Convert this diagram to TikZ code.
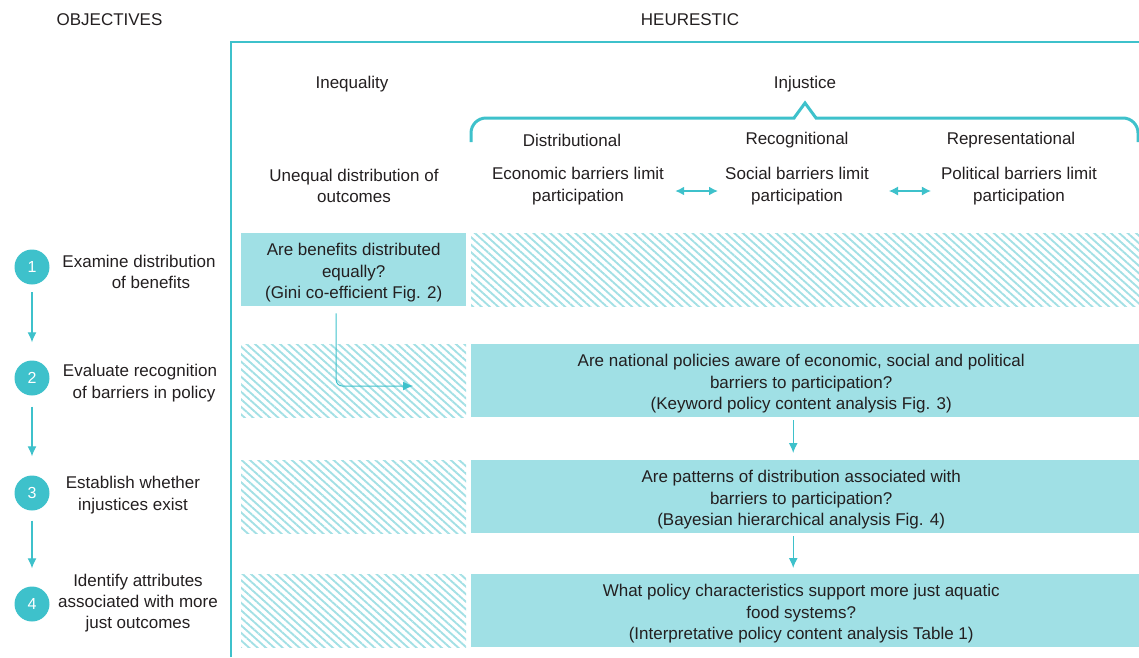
\documentclass[tikz,border=0pt]{standalone}
\usepackage{fontspec}
\setmainfont{Liberation Sans}
\usetikzlibrary{arrows.meta,patterns.meta,calc}
\definecolor{teal1}{HTML}{3EC1CB}
\definecolor{boxfill}{HTML}{A0E0E5}
\definecolor{hatchc}{HTML}{A3E0E5}
\definecolor{ink}{HTML}{231F20}
\tikzset{
  lbl/.style={inner sep=0pt, align=center, text=ink, font=\fontsize{17}{21.3}\selectfont},
  fillbox/.style={fill=boxfill, inner sep=0pt, anchor=north west, minimum height=73pt},
  boxtext/.style={lbl, yshift=-3pt},
  hatchbox/.style={pattern={Lines[angle=-42, distance=5.6pt, line width=1.9pt]}, pattern color=hatchc},
  numc/.style={circle, fill=teal1, minimum size=35pt, inner sep=0pt, text=white, font=\fontsize{16}{18}\selectfont},
  arr/.style={draw=teal1, line width=1.2pt, -{Latex[length=10pt,width=9pt]}},
  darr/.style={draw=teal1, {Latex[length=9pt,width=9pt]}-{Latex[length=9pt,width=9pt]}},
  frame/.style={draw=teal1, line width=1.5pt},
  bracel/.style={draw=teal1, line width=3pt},
}
\begin{document}
\begin{tikzpicture}[x=1pt,y=-1pt]
\useasboundingbox (0,0) rectangle (1139,657);
% headers
\node[lbl, anchor=base] (hobj) at (109.5,25) {OBJECTIVES};
\node[lbl, anchor=base] (hheu) at (690,25) {HEURESTIC};
% frame
\draw[frame] (231,657) -- (231,42) -- (1139,42);
% top labels
\node[lbl, anchor=base] (ineq) at (352,88) {Inequality};
\node[lbl, anchor=base] (injs) at (805,88) {Injustice};
% brace
\draw[bracel, rounded corners=15pt] (471,142) -- (471,118) -- (795,118);
\draw[bracel, line join=miter] (794,118) -- (805,103) -- (816,118);
\draw[bracel, rounded corners=15pt] (815,118) -- (1138,118) -- (1138,142);
\node[lbl, anchor=base] (dist) at (572,146) {Distributional};
\node[lbl, anchor=base] (reco) at (797,144) {Recognitional};
\node[lbl, anchor=base] (repr) at (1011,144) {Representational};
% sub labels
\node[lbl] (uneq) at (354,186) {Unequal distribution of\\outcomes};
\node[lbl] (econ) at (578,186) {Economic barriers limit\\participation};
\node[lbl] (soci) at (797,186) {Social barriers limit\\participation};
\node[lbl] (poli) at (1019,186) {Political barriers limit\\participation};
\draw[darr, line width=1.7pt, shorten <=11pt, shorten >=7pt] ([yshift=-5pt]econ.east) -- ([yshift=-5pt]soci.west);
\draw[darr, line width=1.1pt, shorten <=20pt, shorten >=10pt] ([yshift=-5pt]soci.east) -- ([yshift=-5pt]poli.west);
% row 1
\node[fillbox, minimum width=225pt, label={[boxtext]center:{Are benefits distributed\\equally?\\(Gini co-efficient Fig. 2)}}] (b1) at (241,233) {};
\fill[hatchbox] (471,233) rectangle (1139,306);
% row 2
\fill[hatchbox] (241,344) rectangle (466,417);
\node[fillbox, minimum width=668pt, label={[boxtext, xshift=-4pt]center:{Are national policies aware of economic, social and political\\barriers to participation?\\(Keyword policy content analysis Fig. 3)}}] (b2) at (471,344) {};
% row 3
\fill[hatchbox] (241,460) rectangle (466,533);
\node[fillbox, minimum width=668pt, label={[boxtext, xshift=-4pt]center:{Are patterns of distribution associated with\\barriers to participation?\\(Bayesian hierarchical analysis Fig. 4)}}] (b3) at (471,460) {};
% row 4
\fill[hatchbox] (241,574) rectangle (466,647);
\node[fillbox, minimum width=668pt, label={[boxtext, xshift=-4pt]center:{What policy characteristics support more just aquatic\\food systems?\\(Interpretative policy content analysis Table 1)}}] (b4) at (471,574) {};
% connectors between boxes
\coordinate (e2) at (413,386);
\draw[arr, line width=1pt, rounded corners=6pt] ([xshift=-17.5pt,yshift=-7pt]b1.south) |- (e2);
\draw[arr] ([xshift=-12pt,yshift=-3pt]b2.south) -- ([xshift=-12pt,yshift=7pt]b3.north);
\draw[arr] ([xshift=-12pt,yshift=-3pt]b3.south) -- ([xshift=-12pt,yshift=6pt]b4.north);
% objectives
\node[numc] (c1) at (32,267) {1};
\node[numc] (c2) at (32,378) {2};
\node[numc] (c3) at (32,493) {3};
\node[numc] (c4) at (32,604) {4};
\node[lbl] (o1) at (139,272) {Examine distribution\\\hspace*{24pt}of benefits};
\node[lbl] (o2) at (140,383) {Evaluate recognition\\\hspace*{8pt}of barriers in policy};
\node[lbl] (o3) at (133,495) {Establish whether\\injustices exist};
\node[lbl] (o4) at (138,603) {Identify attributes\\associated with more\\just outcomes};
\draw[arr] (c1) ++(0,25) -- ([yshift=18pt]c2.north);
\draw[arr, shorten <=11pt, shorten >=1pt] (c2.south) -- ([yshift=18pt]c3.north);
\draw[arr, shorten <=10pt, shorten >=1pt] (c3.south) -- ([yshift=17pt]c4.north);
\end{tikzpicture}
\end{document}
